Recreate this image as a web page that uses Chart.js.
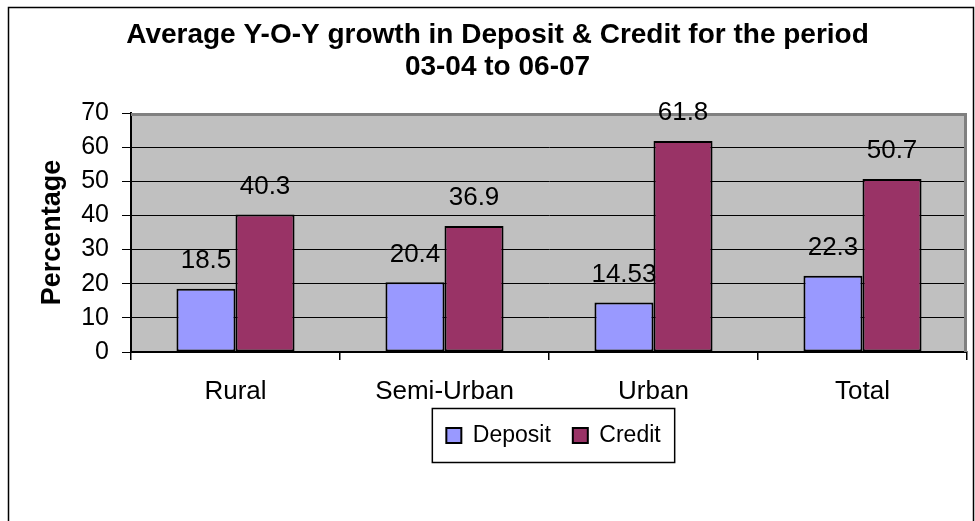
<!DOCTYPE html>
<html>
<head>
<meta charset="utf-8">
<title>Average Y-O-Y growth in Deposit & Credit</title>
<script src="https://cdn.jsdelivr.net/npm/chart.js@4.4.1/dist/chart.umd.min.js"></script>
<style>
  html, body { margin: 0; padding: 0; background: #ffffff; }
  #chart { display: block; }
</style>
</head>
<body>
<canvas id="chart" width="975" height="521"></canvas>
<script>
// chart data
const categories = ['Rural', 'Semi-Urban', 'Urban', 'Total'];
const depositValues = [18.5, 20.4, 14.53, 22.3];
const creditValues = [40.3, 36.9, 61.8, 50.7];
const seriesNames = ['Deposit', 'Credit'];
const titleLines = ['Average Y-O-Y growth in Deposit & Credit for the period', '03-04 to 06-07'];
const yTicks = [0, 10, 20, 30, 40, 50, 60, 70];

const FONT = '"Liberation Sans", Arial, Helvetica, sans-serif';
const LEGEND_SHIFT = 56; // legend sits right of centre in the original

// white page, outer frame and grey plot area
const backdrop = {
	id: 'backdrop',
	beforeDraw(chart) {
		const ctx = chart.ctx;
		const area = chart.chartArea;
		ctx.save();
		ctx.fillStyle = '#ffffff';
		ctx.fillRect(0, 0, chart.width, chart.height);
		ctx.strokeStyle = '#000000';
		ctx.lineWidth = 1.5;
		ctx.strokeRect(8.5, 7.5, 965, 530);
		ctx.fillStyle = '#c0c0c0';
		ctx.fillRect(area.left, area.top, area.right - area.left, area.bottom - area.top);
		ctx.restore();
	},
	beforeDatasetsDraw(chart) {
		// grey plot border on top and right (left / bottom are the axes)
		const ctx = chart.ctx;
		const area = chart.chartArea;
		ctx.save();
		ctx.strokeStyle = '#808080';
		ctx.lineWidth = 3;
		ctx.beginPath();
		ctx.moveTo(area.left, area.top + 1.5);
		ctx.lineTo(area.right - 1.5, area.top + 1.5);
		ctx.lineTo(area.right - 1.5, area.bottom);
		ctx.stroke();
		ctx.restore();
	}
};

// value above each bar
const valueLabels = {
	id: 'valueLabels',
	afterDatasetsDraw(chart) {
		const ctx = chart.ctx;
		ctx.save();
		ctx.font = '26px ' + FONT;
		ctx.fillStyle = '#000000';
		ctx.textAlign = 'center';
		ctx.textBaseline = 'middle';
		chart.data.datasets.forEach((ds, i) => {
			chart.getDatasetMeta(i).data.forEach((bar, j) => {
				ctx.fillText(String(ds.data[j]), bar.x, bar.y - 28);
			});
		});
		ctx.restore();
	}
};

// move the legend a bit to the right and put a thin black box round it
const legendBox = {
	id: 'legendBox',
	afterLayout(chart) {
		chart.legend.left += LEGEND_SHIFT;
		chart.legend.right += LEGEND_SHIFT;
	},
	afterDraw(chart) {
		const boxes = chart.legend.legendHitBoxes;
		if (!boxes || !boxes.length) return;
		let left = Infinity, right = -Infinity, top = Infinity, bottom = -Infinity;
		boxes.forEach((b) => {
			left = Math.min(left, b.left);
			right = Math.max(right, b.left + b.width);
			top = Math.min(top, b.top);
			bottom = Math.max(bottom, b.top + b.height);
		});
		const ctx = chart.ctx;
		ctx.save();
		ctx.strokeStyle = '#000000';
		ctx.lineWidth = 1.5;
		ctx.strokeRect(left - 14, top - 15.5, right - left + 28, bottom - top + 31);
		ctx.restore();
	}
};

new Chart(document.getElementById('chart'), {
	type: 'bar',
	data: {
		labels: categories,
		datasets: [{
			label: seriesNames[0],
			data: depositValues,
			backgroundColor: '#9999ff',
			borderColor: '#000000',
			borderWidth: 2,
			borderSkipped: false
		}, {
			label: seriesNames[1],
			data: creditValues,
			backgroundColor: '#993366',
			borderColor: '#000000',
			borderWidth: 2,
			borderSkipped: false
		}]
	},
	options: {
		responsive: false,
		animation: false,
		devicePixelRatio: 1,
		categoryPercentage: 0.565,
		barPercentage: 1,
		layout: {
			padding: { left: 28, right: 8, top: 0, bottom: 64 }
		},
		plugins: {
			title: {
				display: true,
				text: titleLines,
				color: '#000000',
				font: { family: FONT, size: 28, weight: 'bold', lineHeight: 1.143 },
				padding: { top: 19, bottom: 30 }
			},
			legend: {
				position: 'bottom',
				labels: {
					color: '#000000',
					font: { family: FONT, size: 23 },
					boxWidth: 15,
					boxHeight: 15,
					padding: 22
				}
			},
			tooltip: { enabled: false }
		},
		scales: {
			x: {
				grid: {
					display: true,
					drawOnChartArea: false,
					drawTicks: true,
					tickLength: 8,
					color: '#000000',
					lineWidth: 1.5
				},
				border: { color: '#000000', width: 2 },
				ticks: {
					color: '#000000',
					font: { family: FONT, size: 26 },
					padding: 16,
					maxRotation: 0
				},
				afterFit(scale) {
					scale.height = 50;
				}
			},
			y: {
				min: 0,
				max: 70,
				afterBuildTicks(scale) {
					scale.ticks = yTicks.map((v) => ({ value: v }));
				},
				grid: {
					color: '#000000',
					lineWidth: 1,
					tickLength: 9
				},
				border: { color: '#000000', width: 2 },
				ticks: {
					color: '#000000',
					font: { family: FONT, size: 25 },
					padding: 13
				},
				title: {
					display: true,
					text: 'Percentage',
					color: '#000000',
					font: { family: FONT, size: 27, weight: 'bold' },
					padding: { top: 8, bottom: 0 }
				},
				afterFit(scale) {
					scale.width = 103;
				}
			}
		}
	},
	plugins: [backdrop, valueLabels, legendBox]
});
</script>
</body>
</html>
